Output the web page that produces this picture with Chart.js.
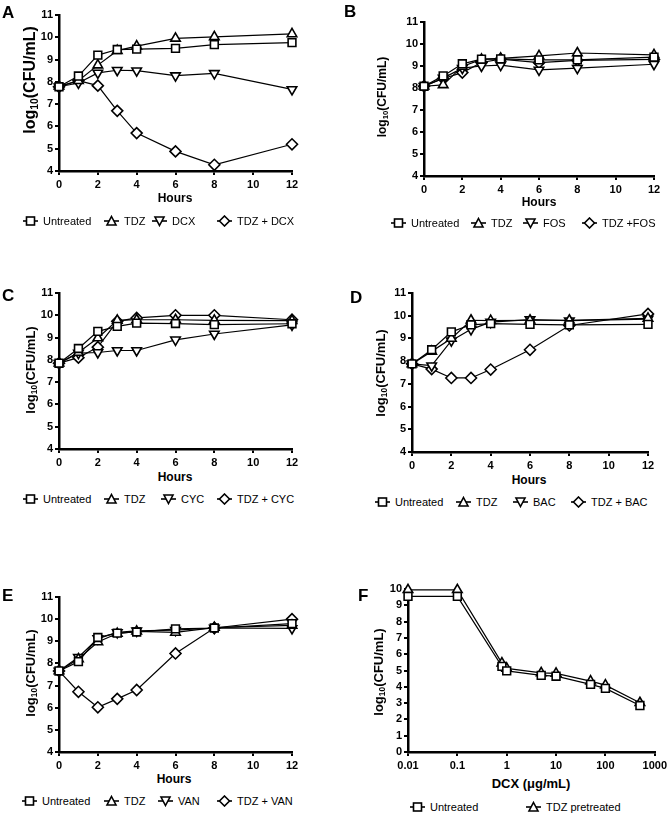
<!DOCTYPE html>
<html>
<head>
<meta charset="utf-8">
<script src="https://cdn.jsdelivr.net/npm/chart.js@4.4.1/dist/chart.umd.min.js"></script>
<style>
  body { margin:0; width:670px; height:814px; position:relative; overflow:hidden; background:#fff;
         font-family:"Liberation Sans", Arial, sans-serif; color:#000; }
  canvas { position:absolute; }
  .letter { position:absolute; font-weight:bold; font-size:17px; line-height:17px; }
  .title { position:absolute; font-weight:bold; white-space:nowrap; line-height:1; transform:translate(-50%,-50%); }
  .ytitle { transform:translate(-50%,-50%) rotate(-90deg); }
  .ytitle sub { font-size:65%; vertical-align:-0.25em; line-height:0; }
  .leg { position:absolute; font-size:11px; line-height:14px; height:14px; white-space:nowrap; display:flex; align-items:center; }
  .leg svg { margin-right:5px; }
</style>
</head>
<body>
<script>
// ---- data ----
const hours = [0, 1, 2, 3, 4, 6, 8, 12]
const hourTicksStep = 2

// A
const aNames = ['Untreated', 'TDZ', 'DCX', 'TDZ + DCX']
const aUntreated = [7.78, 8.26, 9.2, 9.45, 9.47, 9.5, 9.67, 9.76]
const aTDZ = [7.8, 8.05, 8.75, 9.4, 9.6, 9.95, 10.02, 10.15]
const aDCX = [7.78, 7.95, 8.4, 8.52, 8.5, 8.28, 8.38, 7.66]
const aTDZDCX = [7.78, 8.05, 7.83, 6.7, 5.7, 4.88, 4.28, 5.2]

// B
const bNames = ['Untreated', 'TDZ', 'FOS', 'TDZ +FOS']
const bUntreated = [8.08, 8.55, 9.1, 9.31, 9.32, 9.28, 9.28, 9.4]
const bTDZ = [8.08, 8.14, 8.98, 9.3, 9.35, 9.46, 9.59, 9.51]
const bFOS = [8.08, 8.45, 8.9, 9.0, 9.04, 8.82, 8.9, 9.08]
const bTDZFOS = [8.08, 8.43, 8.7, 9.16, 9.31, 9.15, 9.26, 9.3]

// C
const cNames = ['Untreated', 'TDZ', 'CYC', 'TDZ + CYC']
const cUntreated = [7.85, 8.51, 9.28, 9.5, 9.65, 9.63, 9.58, 9.62]
const cTDZ = [7.85, 8.33, 8.98, 9.77, 9.8, 9.8, 9.77, 9.76]
const cCYC = [7.85, 8.3, 8.33, 8.42, 8.42, 8.9, 9.16, 9.57]
const cTDZCYC = [7.85, 8.1, 8.57, 9.73, 9.88, 10.0, 10.0, 9.8]

// D
const dNames = ['Untreated', 'TDZ', 'BAC', 'TDZ + BAC']
const dUntreated = [7.88, 8.5, 9.29, 9.6, 9.65, 9.62, 9.6, 9.62]
const dTDZ = [7.88, 8.43, 9.0, 9.8, 9.78, 9.8, 9.8, 9.88]
const dBAC = [7.88, 7.8, 8.9, 9.4, 9.72, 9.83, 9.78, 9.85]
const dTDZBAC = [7.88, 7.65, 7.26, 7.26, 7.63, 8.5, 9.57, 10.08]

// E
const eNames = ['Untreated', 'TDZ', 'VAN', 'TDZ + VAN']
const eUntreated = [7.66, 8.08, 9.17, 9.37, 9.42, 9.56, 9.6, 9.8]
const eTDZ = [7.66, 8.2, 8.97, 9.35, 9.45, 9.4, 9.62, 9.72]
const eVAN = [7.66, 8.28, 9.12, 9.4, 9.47, 9.5, 9.6, 9.58]
const eTDZVAN = [7.66, 6.72, 6.02, 6.4, 6.8, 8.45, 9.6, 10.0]

// F
const fNames = ['Untreated', 'TDZ pretreated']
const dcx = [0.01, 0.1, 0.8, 1, 5, 10, 50, 100, 500]
const dcxTicks = [0.01, 0.1, 1, 10, 100, 1000]
const fUntreated = [9.55, 9.55, 5.25, 4.98, 4.7, 4.65, 4.15, 3.9, 2.85]
const fTDZ = [9.95, 9.95, 5.45, 5.13, 4.85, 4.82, 4.35, 4.1, 3.02]

// ---- styles ----
const FONT = '"Liberation Sans", Arial, sans-serif'
const markers = [
  { pointStyle: 'rect', rot: 0 },
  { pointStyle: 'triangle', rot: 0 },
  { pointStyle: 'triangle', rot: 180 },
  { pointStyle: 'rectRot', rot: 0 }
]

function ds(xs, ys, m) {
  return {
    data: xs.map((x, i) => ({ x: x, y: ys[i] })),
    borderColor: '#000',
    borderWidth: 1.2,
    pointStyle: m.pointStyle,
    rotation: m.rot,
    pointRadius: 5.5,
    pointBorderWidth: 1.6,
    pointBorderColor: '#000',
    pointBackgroundColor: '#fff',
    tension: 0,
    clip: false
  }
}

function axisStyle() {
  return {
    ticks: { color: '#000', font: { family: FONT, size: 11, weight: 'bold' }, padding: 2, maxRotation: 0, autoSkip: false },
    grid: { drawOnChartArea: false, tickLength: 4, color: '#000', lineWidth: 2 },
    border: { color: '#000', width: 2.5 }
  }
}

// legend icon: short line with the marker in the middle
function markerSvg(i) {
  let shape = ''
  const st = 'fill="#fff" stroke="#000" stroke-width="1.6"'
  if (i == 0) shape = '<rect x="3.5" y="2" width="8" height="8" ' + st + '/>'
  if (i == 1) shape = '<polygon points="7.5,1.5 12,10 3,10" ' + st + '/>'
  if (i == 2) shape = '<polygon points="7.5,10.5 12,2 3,2" ' + st + '/>'
  if (i == 3) shape = '<polygon points="7.5,1 12.5,6 7.5,11 2.5,6" ' + st + '/>'
  return '<svg width="15" height="12"><line x1="0" y1="6" x2="15" y2="6" stroke="#000" stroke-width="1.6"/>' + shape + '</svg>'
}

function addDiv(cls, html, left, top, size) {
  const d = document.createElement('div')
  d.className = cls
  d.innerHTML = html
  d.style.left = left + 'px'
  d.style.top = top + 'px'
  if (size) d.style.fontSize = size + 'px'
  document.body.appendChild(d)
}

function panel(p) {
  const cv = document.createElement('canvas')
  cv.width = p.cw
  cv.height = p.ch
  cv.style.left = p.cl + 'px'
  cv.style.top = p.ct + 'px'
  document.body.appendChild(cv)

  const xs = axisStyle()
  const ys = axisStyle()
  xs.type = p.logX ? 'logarithmic' : 'linear'
  xs.min = p.xmin
  xs.max = p.xmax
  xs.ticks.padding = 3
  if (p.logX) {
    xs.afterBuildTicks = s => { s.ticks = dcxTicks.map(v => ({ value: v })) }
    xs.ticks.callback = v => String(v)
  } else {
    xs.ticks.stepSize = hourTicksStep
  }
  xs.afterFit = s => { s.height = p.ct + p.ch - p.bottom }
  ys.min = p.ymin
  ys.max = p.ymax
  ys.ticks.stepSize = 1
  ys.afterFit = s => { s.width = p.left - p.cl }

  new Chart(cv, {
    type: 'line',
    data: { datasets: p.series.map((s, i) => ds(p.x, s, markers[i])) },
    options: {
      responsive: false,
      animation: false,
      devicePixelRatio: 1,
      layout: { padding: { left: 0, bottom: 0, top: p.top - p.ct, right: p.cl + p.cw - p.right } },
      plugins: { legend: { display: false }, tooltip: { enabled: false } },
      scales: { x: xs, y: ys }
    }
  })

  addDiv('letter', p.letter, p.letterPos[0], p.letterPos[1])
  addDiv('title ytitle', 'log<sub>10</sub>(CFU/mL)', p.yTitle[0], p.yTitle[1], p.yTitle[2])
  addDiv('title', p.xLabel, p.xTitle[0], p.xTitle[1], p.xTitle[2])
  p.names.forEach((n, i) => {
    addDiv('leg', markerSvg(i) + '<span>' + n + '</span>', p.legX[i], p.legY - 7)
  })
}

panel({ letter: 'A', letterPos: [2, 4], cl: 0, ct: 0, cw: 335, ch: 192,
  left: 59, top: 15, right: 292, bottom: 171, xmin: 0, xmax: 12, ymin: 4, ymax: 11,
  x: hours, series: [aUntreated, aTDZ, aDCX, aTDZDCX], names: aNames, xLabel: 'Hours',
  yTitle: [30, 80, 16], xTitle: [175, 198, 12], legX: [23, 104, 152, 217], legY: 221 })

panel({ letter: 'B', letterPos: [344, 3], cl: 335, ct: 0, cw: 335, ch: 196,
  left: 424, top: 22, right: 654, bottom: 176, xmin: 0, xmax: 12, ymin: 4, ymax: 11,
  x: hours, series: [bUntreated, bTDZ, bFOS, bTDZFOS], names: bNames, xLabel: 'Hours',
  yTitle: [382, 97, 12], xTitle: [539, 202, 12], legX: [391, 471, 523, 582], legY: 223 })

panel({ letter: 'C', letterPos: [2, 287], cl: 0, ct: 270, cw: 335, ch: 198,
  left: 59, top: 293, right: 292, bottom: 449, xmin: 0, xmax: 12, ymin: 4, ymax: 11,
  x: hours, series: [cUntreated, cTDZ, cCYC, cTDZCYC], names: cNames, xLabel: 'Hours',
  yTitle: [30, 370, 13], xTitle: [175, 477, 12], legX: [23, 104, 161, 217], legY: 499 })

panel({ letter: 'D', letterPos: [350, 289], cl: 335, ct: 270, cw: 335, ch: 200,
  left: 412, top: 293, right: 648, bottom: 452, xmin: 0, xmax: 12, ymin: 4, ymax: 11,
  x: hours, series: [dUntreated, dTDZ, dBAC, dTDZBAC], names: dNames, xLabel: 'Hours',
  yTitle: [380, 373, 13], xTitle: [529, 480, 12], legX: [375, 456, 513, 571], legY: 502 })

panel({ letter: 'E', letterPos: [2, 587], cl: 0, ct: 560, cw: 335, ch: 210,
  left: 59, top: 597, right: 292, bottom: 752, xmin: 0, xmax: 12, ymin: 4, ymax: 11,
  x: hours, series: [eUntreated, eTDZ, eVAN, eTDZVAN], names: eNames, xLabel: 'Hours',
  yTitle: [30, 673, 13], xTitle: [174, 779, 12], legX: [22, 104, 158, 217], legY: 801 })

panel({ letter: 'F', letterPos: [358, 587], cl: 335, ct: 560, cw: 335, ch: 212, logX: true,
  left: 408, top: 589, right: 655, bottom: 752, xmin: 0.01, xmax: 1000, ymin: 0, ymax: 10,
  x: dcx, series: [fUntreated, fTDZ], names: fNames, xLabel: 'DCX (μg/mL)',
  yTitle: [378, 672, 13], xTitle: [531, 783, 13], legX: [410, 526], legY: 807 })
</script>
</body>
</html>
